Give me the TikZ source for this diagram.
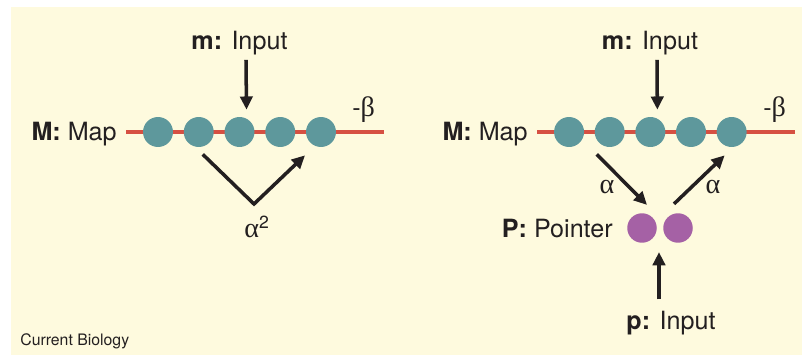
\documentclass[tikz,border=0pt]{standalone}
\usepackage{fontspec}
\setmainfont{TeX Gyre Heros}
\newfontfamily\grk{Liberation Serif}
\usetikzlibrary{arrows.meta,calc}
\definecolor{paper}{HTML}{FEFADE}
\definecolor{mapdot}{HTML}{5E989C}
\definecolor{ptrdot}{HTML}{A561A5}
\definecolor{trackred}{HTML}{D65042}
\definecolor{inkdark}{HTML}{231F20}

\begin{document}
\begin{tikzpicture}[x=0.02cm,y=0.02cm,
  font=\fontsize{14.3}{17}\selectfont,
  lbl/.style={inner sep=0pt,text=inkdark},
  mdot/.style={circle,fill=mapdot,minimum size=0.6cm,inner sep=0pt},
  pdot/.style={circle,fill=ptrdot,minimum size=0.59cm,inner sep=0pt},
  track/.style={draw=trackred,line width=2.2pt},
  arr/.style={-{Triangle[length=7.5pt,width=7pt]},line width=2pt,draw=inkdark}]
\useasboundingbox (0,0) rectangle (802,-355);
\fill[paper] (11,-7) rectangle (802,-355);
% left: map alone
\node[lbl,anchor=base east] (mapL) at (117,-140) {\textbf{M:} Map};
\coordinate (endL) at (384,-132);
\draw[track] ($(mapL.east |- endL)+(9,0)$) -- (endL);
\foreach \i in {1,...,5}
  \node[mdot] (l\i) at ({117.25+40.75*\i},-132) {};
\node[lbl,anchor=base] (inL) at (239.5,-50) {\textbf{m:} Input};
\draw[arr] ($(inL.south)+(6.5,-4)$) -- ($(l3.north)+(7,7)$);
\node[lbl,anchor=west] (betaL) at (352,-110) {-{\grk\fontsize{16}{18}\selectfont β}};
\coordinate (vL) at (254,-204);
\draw[arr] ($(l2.south)+(4,-7)$) -- (vL) -- ($(l5.south)+(-16,-8)$);
\node[lbl] (sqL) at (257,-227) {{\grk\fontsize{16}{18}\selectfont α}\textsuperscript{2}};
% right: map with pointer
\node[lbl,anchor=base east] (mapR) at (528,-140) {\textbf{M:} Map};
\coordinate (endR) at (795,-132);
\draw[track] ($(mapR.east |- endR)+(9,0)$) -- (endR);
\foreach \i in {1,...,5}
  \node[mdot] (r\i) at ({528.4+40.65*\i},-132) {};
\node[lbl,anchor=base] (inR) at (650,-50) {\textbf{m:} Input};
\draw[arr] ($(inR.south)+(7,-4)$) -- ($(r3.north)+(7,7)$);
\node[lbl,anchor=west] (betaR) at (763,-110) {-{\grk\fontsize{16}{18}\selectfont β}};
\node[pdot] (p1) at (642,-228) {};
\node[pdot] (p2) at (678,-228) {};
\node[lbl,anchor=base east] (ptr) at (613,-237) {\textbf{P:} Pointer};
\draw[arr] ($(r2.south)+(-13,-7)$) -- ($(p1.north)+(5,8)$);
\node[lbl,font=\grk\fontsize{16}{18}\selectfont] (aL) at (607,-187) {α};
\draw[arr] ($(p2.north)+(-4,9)$) -- ($(r5.south)+(-7,-8)$);
\node[lbl,font=\grk\fontsize{16}{18}\selectfont] (aR) at (713,-187) {α};
\node[lbl,anchor=base] (inP) at (671,-329) {\textbf{p:} Input};
\draw[arr] ($(inP.north)+(-12,11)$) -- ($(p1.south)!0.5!(p2.south)+(-1,-9)$);
% credit
\node[lbl,anchor=base west,font=\fontsize{9}{11}\selectfont] (credit) at (20,-345) {Current Biology};
\end{tikzpicture}
\end{document}
